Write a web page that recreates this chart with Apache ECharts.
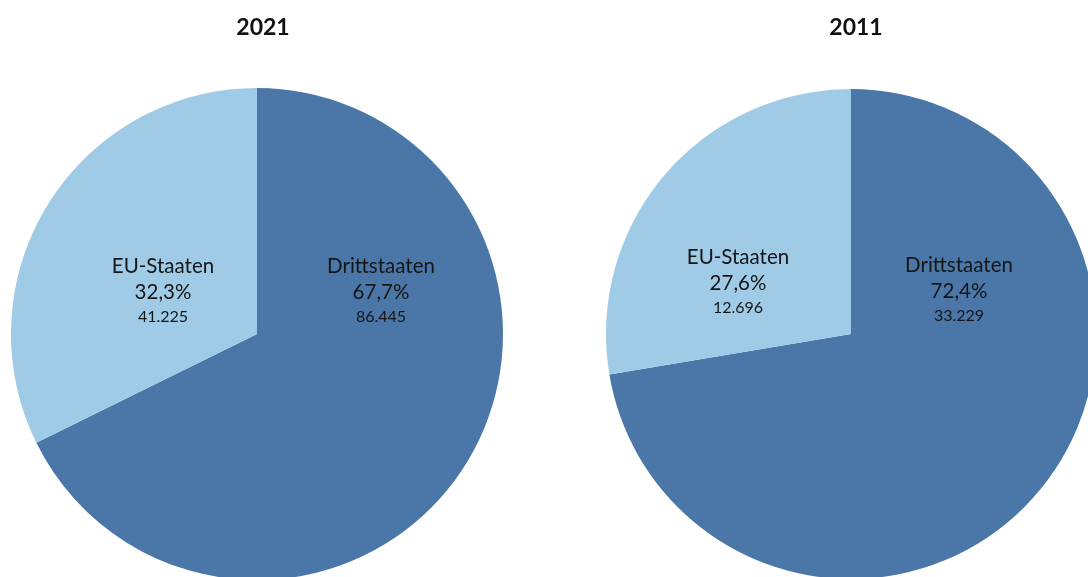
<!DOCTYPE html>
<html>
<head>
<meta charset="utf-8">
<script src="https://cdn.jsdelivr.net/npm/echarts@6/dist/echarts.min.js"></script>
<style>
  html, body { margin: 0; padding: 0; background: #fff; }
  #chart { width: 1088px; height: 577px; }
</style>
</head>
<body>
<div id="chart"></div>
<script>
// Herkunft der Personen: Drittstaaten vs. EU-Staaten
const years = ['2021', '2011'];
const categories = ['Drittstaaten', 'EU-Staaten'];
const values2021 = [86445, 41225];
const values2011 = [33229, 12696];

const colors = ['#4a77a7', '#a0cbe7'];
const font = 'Lato, "Open Sans", sans-serif';

// label block offsets from each pie centre (px), per pie and slice
const labelOffsets = [
  [[124, -43], [-94, -43]],
  [[108, -44], [-113, -52]]
];

const fmtInt = v => String(v).replace(/\B(?=(\d{3})+(?!\d))/g, '.');

function buildSeries(idx, vals, center, radius) {
  const total = vals.reduce((a, b) => a + b, 0);
  return {
    type: 'pie',
    center: center,
    radius: radius,
    startAngle: 90,
    clockwise: true,
    silent: true,
    animation: false,
    data: categories.map((c, i) => ({
      name: c,
      value: vals[i],
      itemStyle: { color: colors[i] }
    })),
    label: {
      show: true,
      position: 'inside',
      formatter: p => '{n|' + p.name + '}\n{p|' +
        (p.value / total * 100).toFixed(1).replace('.', ',') + '%}\n{v|' + fmtInt(p.value) + '}',
      rich: {
        n: { fontFamily: font, fontSize: 20.5, color: '#161616', lineHeight: 26, align: 'center' },
        p: { fontFamily: font, fontSize: 20.5, color: '#161616', lineHeight: 26, align: 'center' },
        v: { fontFamily: font, fontSize: 16, color: '#161616', lineHeight: 24, align: 'center' }
      }
    },
    labelLine: { show: false },
    labelLayout: params => {
      const off = labelOffsets[idx][params.dataIndex];
      return {
        x: center[0] + off[0],
        y: center[1] + off[1],
        align: 'center',
        verticalAlign: 'middle'
      };
    }
  };
}

const chart = echarts.init(document.getElementById('chart'), null, { renderer: 'canvas' });
chart.setOption({
  backgroundColor: '#ffffff',
  animation: false,
  title: [
    { text: years[0], left: 258, top: 11, textAlign: 'center',
      textStyle: { fontFamily: font, fontWeight: 'bold', fontSize: 23, color: '#111' } },
    { text: years[1], left: 851, top: 11, textAlign: 'center',
      textStyle: { fontFamily: font, fontWeight: 'bold', fontSize: 23, color: '#111' } }
  ],
  series: [
    buildSeries(0, values2021, [257, 334], 246),
    buildSeries(1, values2011, [851, 334], 245)
  ]
});
</script>
</body>
</html>
